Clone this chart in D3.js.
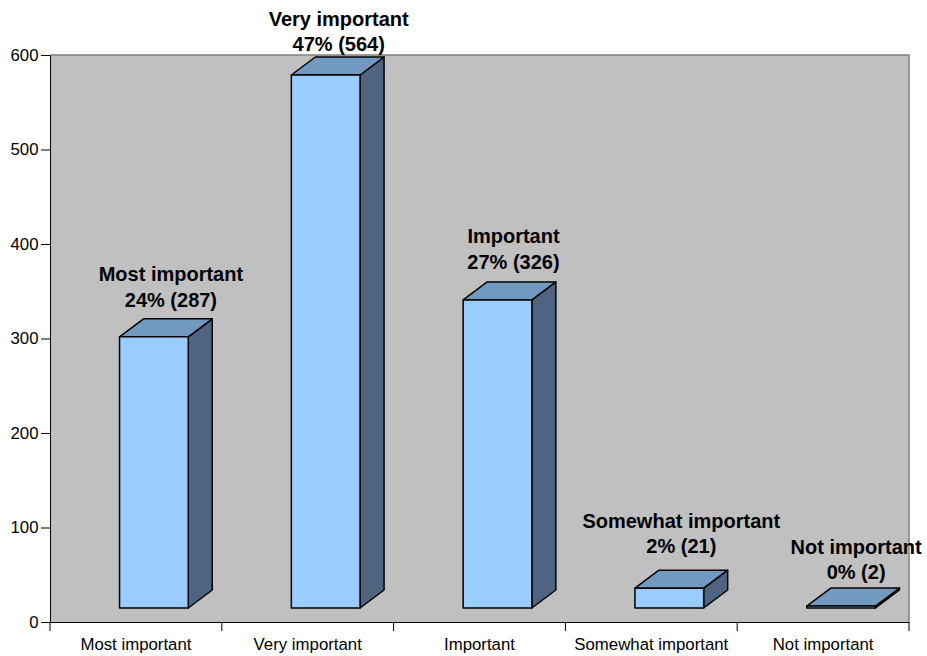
<!DOCTYPE html>
<html>
<head>
<meta charset="utf-8">
<script src="https://cdn.jsdelivr.net/npm/d3@7"></script>
<style>
  body { margin: 0; background: #fff; }
  svg { display: block; font-family: "Liberation Sans", Arial, sans-serif; }
  .axis text { font-size: 16.8px; fill: #000; }
  .axis path, .axis line { stroke: #000; stroke-width: 1; }
  .lbl { font-size: 20px; font-weight: bold; text-anchor: middle; fill: #000; }
</style>
</head>
<body>
<svg width="927" height="656"></svg>
<script>
const categories = ['Most important', 'Very important', 'Important', 'Somewhat important', 'Not important'];
const counts = [287, 564, 326, 21, 2];
const percents = ['24%', '47%', '27%', '2%', '0%'];
const yTicks = [0, 100, 200, 300, 400, 500, 600];

// hand nudges for the data labels, same order as categories
const labelShiftX = [5, 1, 4, 0, 3];
const labelGap = [12, 6, 13, 17, 9];

const plotLeft = 50, plotRight = 909, plotTop = 55, plotBottom = 622;
const depthX = 24, depthY = 18, floorX = 18, floorY = 14; // fake 3d offsets

const svg = d3.select('svg');

const xScale = d3.scaleBand().domain(categories).range([plotLeft, plotRight]).paddingInner(0.6).paddingOuter(0.3);
const yScale = d3.scaleLinear().domain([0, 600]).range([plotBottom, plotTop]);
const barW = xScale.bandwidth();

// plot background
svg.append('rect')
    .attr('x', plotLeft).attr('y', plotTop)
    .attr('width', plotRight - plotLeft).attr('height', plotBottom - plotTop)
    .attr('fill', '#c0c0c0');
svg.append('path')
    .attr('d', `M${plotLeft},${plotTop}H${plotRight}V${plotBottom}`)
    .attr('fill', 'none').attr('stroke', '#808080').attr('stroke-width', 1.5);

const bars = svg.selectAll('.bar')
    .data(categories.map((c, i) => ({ c, i, value: counts[i] })))
    .enter()
    .append('g')
    .classed('bar', true)
    .attr('stroke', '#000')
    .attr('stroke-width', 1.5)
    .attr('stroke-linejoin', 'round');

const x0 = d => xScale(d.c) + floorX;
const x1 = d => x0(d) + barW;
const yTop = d => yScale(d.value) - floorY;
const yBase = yScale(0) - floorY;

// side
bars.append('path')
    .attr('fill', '#4e6480')
    .attr('d', d => `M${x1(d)},${yTop(d)}l${depthX},${-depthY}V${yBase - depthY}L${x1(d)},${yBase}Z`);
// top
bars.append('path')
    .attr('fill', '#7299bf')
    .attr('d', d => `M${x0(d)},${yTop(d)}l${depthX},${-depthY}H${x1(d) + depthX}L${x1(d)},${yTop(d)}Z`);
// front
bars.append('rect')
    .attr('fill', '#99ccff')
    .attr('x', x0)
    .attr('y', yTop)
    .attr('width', barW)
    .attr('height', d => yBase - yTop(d));

// data labels, two lines above the bar
const labels = svg.selectAll('.lbl')
    .data(categories.map((c, i) => ({ c, i, value: counts[i] })))
    .enter()
    .append('text')
    .classed('lbl', true)
    .attr('transform', d => `translate(${x0(d) + barW / 2 + depthX / 2 + labelShiftX[d.i]},${yTop(d) - depthY - labelGap[d.i]})`);
labels.append('tspan').attr('x', 0).attr('y', -25.5).text(d => d.c);
labels.append('tspan').attr('x', 0).attr('y', 0).text(d => `${percents[d.i]} (${d.value})`);

// axes
svg.append('g')
    .classed('axis', true)
    .attr('transform', `translate(${plotLeft},0)`)
    .call(d3.axisLeft(yScale).tickValues(yTicks).tickSize(9).tickPadding(2.5).tickSizeOuter(0));

const xAxis = svg.append('g')
    .classed('axis', true)
    .attr('transform', `translate(0,${plotBottom})`)
    .call(d3.axisBottom(xScale).tickSize(0).tickPadding(16));
xAxis.selectAll('text').attr('dy', '0.71em');

// category separators, the ticks sit between the bands
xAxis.selectAll('.sep')
    .data(d3.range(categories.length + 1))
    .enter()
    .append('line')
    .classed('sep', true)
    .attr('x1', i => plotLeft + i * xScale.step())
    .attr('x2', i => plotLeft + i * xScale.step())
    .attr('y1', 0)
    .attr('y2', 9)
    .attr('stroke', (i) => i === categories.length ? '#808080' : '#000');
</script>
</body>
</html>
